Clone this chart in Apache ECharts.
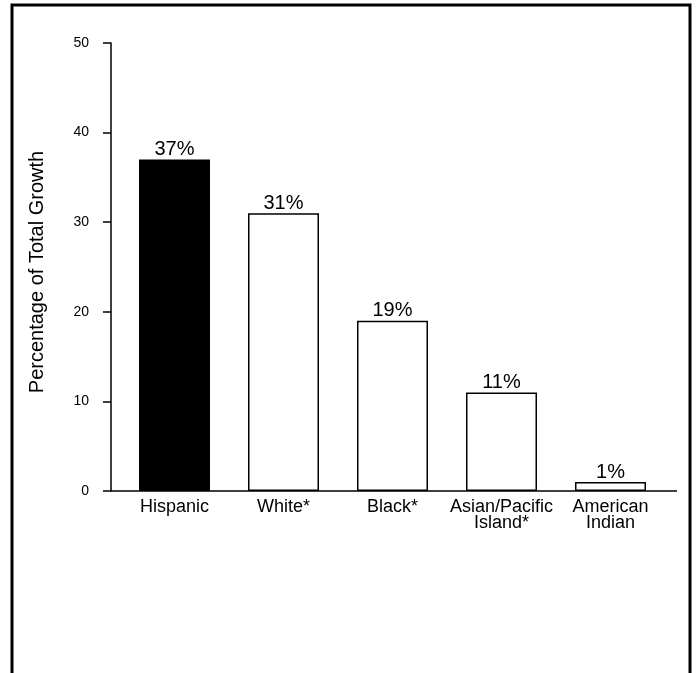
<!DOCTYPE html>
<html>
<head>
<meta charset="utf-8">
<script src="https://cdn.jsdelivr.net/npm/echarts@6/dist/echarts.min.js"></script>
<style>
html,body{margin:0;padding:0;background:#fff;}
#chart{width:697px;height:673px;}
</style>
</head>
<body>
<div id="chart"></div>
<script>
var categories = ['Hispanic', 'White*', 'Black*', 'Asian/Pacific\nIsland*', 'American\nIndian'];
var values = [37, 31, 19, 11, 1];
var yTicks = [0, 10, 20, 30, 40, 50];
var yTitle = 'Percentage of Total Growth';

var FONT = '"Liberation Sans", Arial, Helvetica, sans-serif';
var chart = echarts.init(document.getElementById('chart'), null, {renderer: 'canvas'});

var data = values.map(function (v, i) {
  return {
    value: v,
    itemStyle: i === 0 ? {color: '#000', borderColor: '#000', borderWidth: 1.5}
                       : {color: '#fff', borderColor: '#000', borderWidth: 1.5}
  };
});

chart.setOption({
  animation: false,
  backgroundColor: '#fff',
  grid: {left: 120, width: 545, top: 43, bottom: 182},
  xAxis: {
    type: 'category',
    data: categories,
    axisLine: {show: false},
    axisTick: {show: false},
    axisLabel: {color: '#000', fontFamily: FONT, fontSize: 18, margin: 8, lineHeight: 16, interval: 0}
  },
  yAxis: {
    type: 'value',
    min: yTicks[0],
    max: yTicks[yTicks.length - 1],
    interval: 10,
    offset: 9,
    name: yTitle,
    nameLocation: 'middle',
    nameGap: 64,
    nameTextStyle: {color: '#000', fontFamily: FONT, fontSize: 20, padding: [0, 10, 0, 0]},
    axisLine: {show: true, lineStyle: {color: '#000', width: 1.5}},
    axisTick: {show: true, length: 8, lineStyle: {color: '#000', width: 1.5}},
    axisLabel: {color: '#000', fontFamily: FONT, fontSize: 14, margin: 22},
    splitLine: {show: false}
  },
  series: [{
    type: 'bar',
    data: data,
    barWidth: 71,
    label: {
      show: true,
      position: 'top',
      distance: 0,
      formatter: '{c}%',
      color: '#000',
      fontFamily: FONT,
      fontSize: 20
    }
  }],
  graphic: [
    {type: 'polyline', shape: {points: [[12, 680], [12, 5], [690, 5], [690, 680]]},
     style: {stroke: '#000', lineWidth: 3, fill: null}, silent: true},
    {type: 'line', shape: {x1: 111, y1: 491, x2: 677, y2: 491},
     style: {stroke: '#000', lineWidth: 1.5}, silent: true}
  ]
});
</script>
</body>
</html>
